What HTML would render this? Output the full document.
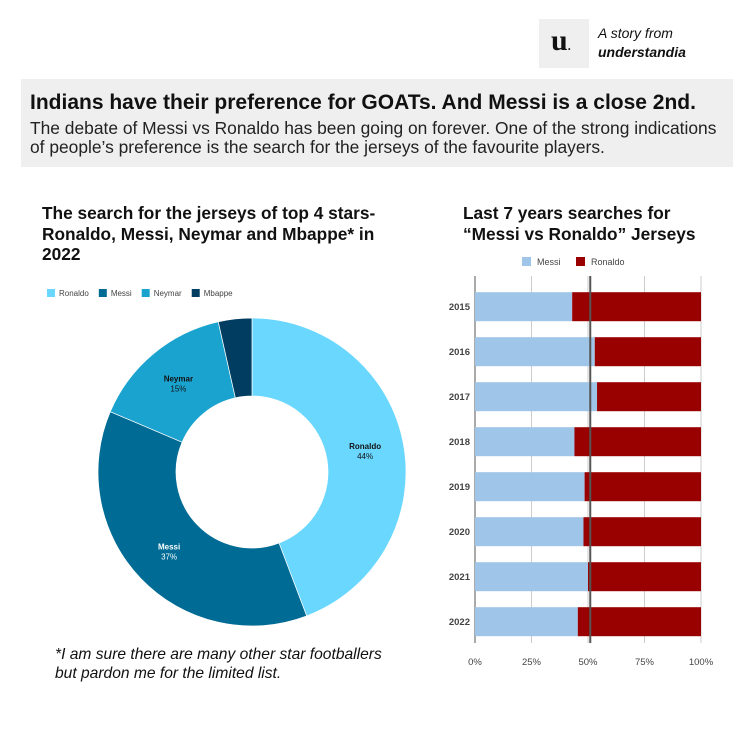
<!DOCTYPE html>
<html><head><meta charset="utf-8"><style>
body{margin:0;width:755px;height:755px;background:#fff;font-family:"Liberation Sans",sans-serif;position:relative;overflow:hidden}
.a{position:absolute}
</style></head><body>
<div class="a" style="left:539px;top:19px;width:50px;height:49px;background:#efefef"></div>
<div class="a" style="left:551px;top:24px;font-family:'Liberation Serif',serif;font-weight:bold;font-size:30px;color:#111">u<span style="font-size:12px">.</span></div>
<div class="a" style="left:598px;top:24px;font-size:14px;font-style:italic;color:#111;line-height:19px">A story from<br><b>understandia</b></div>
<div class="a" style="left:21px;top:79px;width:712px;height:88px;background:#efefef"></div>
<div class="a" style="left:30px;top:91px;font-size:21px;font-weight:bold;color:#111">Indians have their preference for GOATs. And Messi is a close 2nd.</div>
<div class="a" style="left:30px;top:119px;font-size:17.4px;color:#222;line-height:19px;width:710px;white-space:nowrap">The debate of Messi vs Ronaldo has been going on forever. One of the strong indications<br>of people’s preference is the search for the jerseys of the favourite players.</div>
<div class="a" style="left:42px;top:203px;font-size:17.3px;font-weight:bold;color:#111;line-height:20.5px;width:380px">The search for the jerseys of top 4 stars-<br>Ronaldo, Messi, Neymar and Mbappe* in<br>2022</div>
<div class="a" style="left:463px;top:203px;font-size:17.3px;font-weight:bold;color:#111;line-height:20.5px">Last 7 years searches for<br>“Messi vs Ronaldo” Jerseys</div>
<div class="a" style="left:55px;top:645px;font-size:15.6px;font-style:italic;color:#111;line-height:19px">*I am sure there are many other star footballers<br>but pardon me for the limited list.</div>
<svg class="a" style="left:0;top:0" width="755" height="755" id="svg"></svg>
<script>
const pieLabels=["Ronaldo","Messi","Neymar","Mbappe"];
const pieValues=[44,37,15,3.5];
const pieColors=["#6ad7ff","#006b94","#1ba3cf","#003d61"];
const years=["2015","2016","2017","2018","2019","2020","2021","2022"];
const messi=[43,53,54,44,48.5,48,50,45.5];
const ronaldo=[57,47,46,56,51.5,52,50,54.5];
const xTicks=[0,25,50,75,100];
const NS="http://www.w3.org/2000/svg";
const svg=document.getElementById('svg');
function mk(t,a,p){const e=document.createElementNS(NS,t);for(const k in a)e.setAttribute(k,a[k]);(p||svg).appendChild(e);return e;}
const cx=252,cy=472,R=154,r=76;
const tot=pieValues.reduce((a,b)=>a+b,0);
let ang=0;
pieValues.forEach((v,i)=>{
 const a0=ang,a1=ang+v/tot*2*Math.PI;ang=a1;
 const p=(a,rr)=>[cx+rr*Math.sin(a),cy-rr*Math.cos(a)];
 const [x0,y0]=p(a0,R),[x1,y1]=p(a1,R),[x2,y2]=p(a1,r),[x3,y3]=p(a0,r);
 const lg=(a1-a0)>Math.PI?1:0;
 const s=mk('path',{d:`M${x0},${y0}A${R},${R} 0 ${lg} 1 ${x1},${y1}L${x2},${y2}A${r},${r} 0 ${lg} 0 ${x3},${y3}Z`,fill:pieColors[i],stroke:'#fff','stroke-width':0.7});
 
 
 if(v>=10){
  const m=(a0+a1)/2,[lx,ly]=p(m,(R+r)/2);
  const col=i==1?'#fff':'#111';
  const t=mk('text',{x:lx,y:ly-2,'text-anchor':'middle','font-size':8,'font-weight':'bold',fill:col});t.textContent=pieLabels[i];
  
  
  const t2=mk('text',{x:lx,y:ly+8,'text-anchor':'middle','font-size':8,fill:col});t2.textContent=Math.round(v)+'%';
  
  
 }
});
let lx=47;
pieLabels.forEach((l,i)=>{
 const g=mk('g',{});
 
 
 mk('rect',{x:lx,y:289,width:8,height:8,fill:pieColors[i]},g);
 const t=mk('text',{x:lx+12,y:296,'font-size':8,fill:'#444'},g);t.textContent=l;
 lx+=12+t.getComputedTextLength()+10;
});
const x0=475,x1=701,top0=276,bot=643,rowH=45,bh=29,firstC=306.7;
const xs=v=>x0+(x1-x0)*v/100;
xTicks.forEach(v=>{
 const l=mk('line',{x1:xs(v),x2:xs(v),y1:top0,y2:bot,stroke:v==0?'#555':'#ccc','stroke-width':1});
 
 
 const t=mk('text',{x:xs(v),y:665,'text-anchor':'middle','font-size':9.5,fill:'#444'});t.textContent=v+'%';
 
 
});
years.forEach((y,i)=>{
 const cyb=firstC+i*rowH;
 const b1=mk('rect',{x:xs(0),y:cyb-bh/2,width:xs(messi[i])-xs(0),height:bh,fill:'#9fc5e8'});
 
 
 const b2=mk('rect',{x:xs(messi[i]),y:cyb-bh/2,width:xs(messi[i]+ronaldo[i])-xs(messi[i]),height:bh,fill:'#990000'});
 
 
 const t=mk('text',{x:470,y:cyb+3.5,'text-anchor':'end','font-size':9.5,'font-weight':'bold',fill:'#444'});t.textContent=y;
 
 
});
const ref=mk('line',{x1:xs(51),x2:xs(51),y1:top0,y2:bot,stroke:'#555','stroke-width':2});


const lg1=mk('g',{});


mk('rect',{x:522,y:257,width:9,height:9,fill:'#9fc5e8'},lg1);
let tt=mk('text',{x:537,y:265,'font-size':9,fill:'#444'},lg1);tt.textContent='Messi';
const lg2=mk('g',{});


mk('rect',{x:576,y:257,width:9,height:9,fill:'#990000'},lg2);
tt=mk('text',{x:591,y:265,'font-size':9,fill:'#444'},lg2);tt.textContent='Ronaldo';
</script>
</body></html>
